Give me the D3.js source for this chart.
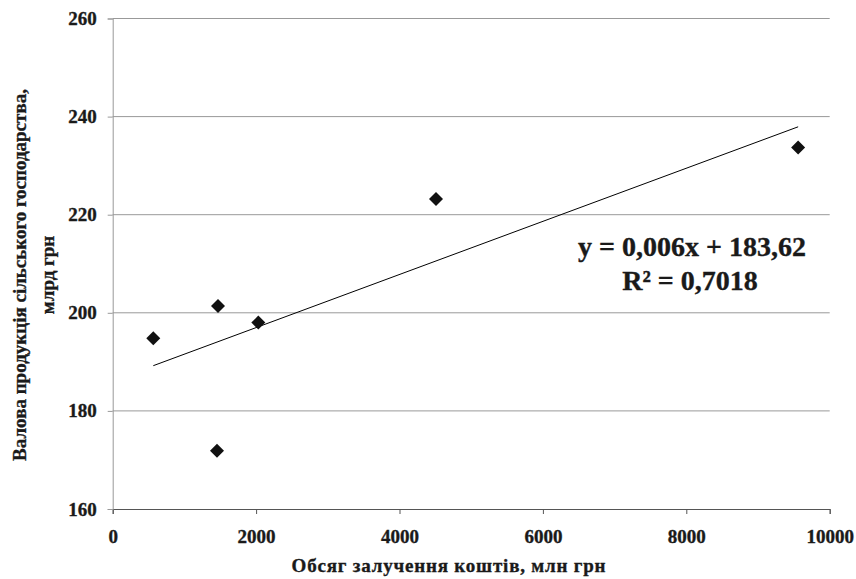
<!DOCTYPE html>
<html>
<head>
<meta charset="utf-8">
<script src="https://cdn.jsdelivr.net/npm/d3@7"></script>
<style>
  body { margin: 0; background: #fff; }
  svg text { font-family: "Liberation Serif", "Times New Roman", serif; font-weight: bold; fill: #1a1a1a; stroke: #1a1a1a; stroke-width: 0.35px; }
</style>
</head>
<body>
<script>
  // investment, mln UAH
  var funds = [566, 1469, 2031, 1455, 4509, 9560];
  // gross agricultural output, bln UAH
  var output = [194.8, 201.4, 198.0, 171.9, 223.2, 233.7];
  var xTicks = [0, 2000, 4000, 6000, 8000, 10000];
  var yTicks = [160, 180, 200, 220, 240, 260];
  var eqLabel = "y = 0,006x + 183,62";
  var r2Label = "R² = 0,7018";
  var xTitle = "Обсяг залучення коштів, млн грн";
  var yTitle = ["Валова продукція сільського господарства,", "млрд грн"];

  var W = 856, H = 579;
  var svg = d3.select("body").append("svg")
        .attr("width", W).attr("height", H);

  var x = d3.scaleLinear().domain([0, 10000]).range([112.7, 829.7]);
  var y = d3.scaleLinear().domain([160, 260]).range([509, 18.5]);

  // horizontal grid
  svg.append("g").selectAll("line").data(yTicks.slice(1))
    .enter().append("line")
    .attr("x1", x(0)).attr("x2", x(10000))
    .attr("y1", function(d) { return y(d); }).attr("y2", function(d) { return y(d); })
    .style("stroke", "#999").style("stroke-width", 1);

  var xAxis = svg.append("g")
    .attr("transform", "translate(0," + y(160) + ")")
    .call(d3.axisBottom(x).tickValues(xTicks).tickSize(5).tickPadding(16).tickFormat(d3.format("d")));
  xAxis.select(".domain").style("stroke", "#555");
  xAxis.selectAll(".tick line").style("stroke", "#555");
  xAxis.selectAll("text").style("font-size", "19px");

  var yAxis = svg.append("g")
    .attr("transform", "translate(" + x(0) + ",0)")
    .call(d3.axisLeft(y).tickValues(yTicks).tickSize(5).tickPadding(11));
  yAxis.select(".domain").style("stroke", "#999");
  yAxis.selectAll(".tick line").style("stroke", "#999");
  yAxis.selectAll("text").style("font-size", "19px");

  // linear trend, least squares over the points
  var n = funds.length;
  var mx = d3.mean(funds), my = d3.mean(output);
  var sxy = 0, sxx = 0;
  for (var i = 0; i < n; i++) {
    sxy += (funds[i] - mx) * (output[i] - my);
    sxx += (funds[i] - mx) * (funds[i] - mx);
  }
  var slope = sxy / sxx, icpt = my - slope * mx;
  var xr = d3.extent(funds);
  svg.append("line")
    .attr("x1", x(xr[0])).attr("y1", y(icpt + slope * xr[0]))
    .attr("x2", x(xr[1])).attr("y2", y(icpt + slope * xr[1]))
    .style("stroke", "#000").style("stroke-width", 1);

  var pts = funds.map(function(d, i) { return [d, output[i]]; });
  svg.append("g").selectAll("path").data(pts)
    .enter().append("path")
    .attr("d", d3.symbol().type(d3.symbolSquare).size(98))
    .attr("transform", function(d) { return "translate(" + x(d[0]) + "," + y(d[1]) + ") rotate(45)"; })
    .style("fill", "#111");

  svg.append("text").attr("x", 692).attr("y", 256)
    .attr("text-anchor", "middle").style("font-size", "28px").text(eqLabel);
  svg.append("text").attr("x", 690).attr("y", 290)
    .attr("text-anchor", "middle").style("font-size", "28px").text(r2Label);

  svg.append("text").attr("x", 449).attr("y", 572)
    .attr("text-anchor", "middle").style("font-size", "19px")
    .style("letter-spacing", "0.8px").text(xTitle);

  svg.append("g").selectAll("text").data(yTitle)
    .enter().append("text")
    .attr("text-anchor", "middle")
    .attr("transform", function(d, i) { return "translate(" + (26 + i * 28) + ",275) rotate(-90)"; })
    .style("font-size", "19px")
    .text(function(d) { return d; });
</script>
</body>
</html>
